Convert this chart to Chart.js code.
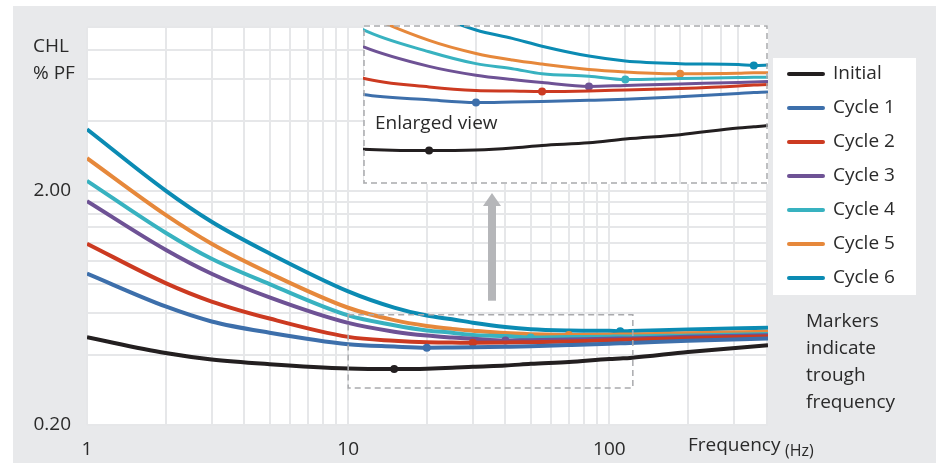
<!DOCTYPE html>
<html>
<head>
<meta charset="utf-8">
<script src="https://cdn.jsdelivr.net/npm/chart.js@4.4.0/dist/chart.umd.min.js"></script>
<style>
  html, body { margin: 0; padding: 0; background: #fff; }
  #wrap { position: relative; width: 936px; height: 465px; }
  #main { position: absolute; left: 0; top: 0; }
  #inset { position: absolute; left: 363px; top: 25px; }
</style>
</head>
<body>
<div id="wrap">
  <canvas id="main" width="936" height="465"></canvas>
  <canvas id="inset" width="405" height="159"></canvas>
</div>
<script>
// data (CHL % PF against frequency in Hz)
const frequencies = [1, 2, 3, 5, 10, 15, 20, 25, 30, 40, 50, 70, 100, 110, 120, 200, 405];
const initial = [0.474, 0.406, 0.381, 0.364, 0.349, 0.347, 0.348, 0.351, 0.355, 0.359, 0.365, 0.372, 0.383, 0.385, 0.387, 0.410, 0.438];
const cycle1  = [0.887, 0.642, 0.554, 0.496, 0.443, 0.433, 0.428, 0.429, 0.430, 0.432, 0.434, 0.439, 0.445, 0.447, 0.448, 0.458, 0.468];
const cycle2  = [1.19, 0.808, 0.674, 0.570, 0.476, 0.458, 0.451, 0.450, 0.449, 0.450, 0.452, 0.455, 0.460, 0.462, 0.463, 0.470, 0.478];
const cycle3  = [1.81, 1.122, 0.886, 0.702, 0.546, 0.501, 0.482, 0.473, 0.467, 0.459, 0.461, 0.464, 0.467, 0.468, 0.469, 0.476, 0.484];
const cycle4  = [2.21, 1.326, 1.026, 0.800, 0.588, 0.534, 0.507, 0.496, 0.485, 0.480, 0.473, 0.475, 0.477, 0.478, 0.478, 0.483, 0.490];
const cycle5  = [2.76, 1.58, 1.19, 0.890, 0.634, 0.561, 0.530, 0.515, 0.506, 0.494, 0.489, 0.485, 0.486, 0.487, 0.487, 0.493, 0.500];
const cycle6  = [3.67, 2.008, 1.478, 1.082, 0.745, 0.635, 0.587, 0.566, 0.547, 0.524, 0.513, 0.507, 0.505, 0.503, 0.504, 0.512, 0.521];
const seriesValues = [initial, cycle1, cycle2, cycle3, cycle4, cycle5, cycle6];
const seriesNames = ['Initial', 'Cycle 1', 'Cycle 2', 'Cycle 3', 'Cycle 4', 'Cycle 5', 'Cycle 6'];
const troughFreq = [15, 20, 30, 40, 50, 70, 110];

const xGridTicks = [1, 2, 3, 4, 5, 6, 7, 8, 9, 10, 20, 30, 40, 50, 60, 70, 80, 90, 100, 200, 300, 400];
const yGridTicks = [0.2, 0.4, 0.6, 0.8, 1.0, 1.2, 1.4, 1.6, 1.8, 2.0, 4, 6, 8, 10];
const xTickLabels = { 1: '1', 10: '10', 100: '100' };
const yTickLabels = { 0.2: '0.20', 2: '2.00' };
const insetGridTicks = [10, 20, 30, 40, 50, 60, 70, 80, 90, 100];
const zoomBoxX = [10, 123];
const zoomBoxY = [0.288, 0.592];
const insetX = [10, 120];
const insetY = [0.30, 0.60];

const colors = ['#231f20', '#3d6fab', '#cc3a21', '#6e5295', '#38b2c0', '#e6883b', '#0b8bb3'];
const FONT = '"Open Sans", sans-serif';
const TEXT = '#2a2a2a';
const BG = '#e8e9eb';
const GRID = '#e6e7e9';
const DASH = '#a9aaad';

function makeDatasets(width, radius) {
    return seriesValues.map((vals, i) => ({
        label: seriesNames[i],
        data: frequencies.map((f, j) => ({ x: f, y: vals[j] })),
        borderColor: colors[i],
        backgroundColor: colors[i],
        borderWidth: width,
        pointRadius: ctx => frequencies[ctx.dataIndex] === troughFreq[i] ? radius : 0,
        pointHoverRadius: 0,
        pointBorderWidth: 0,
        cubicInterpolationMode: 'monotone'
    }));
}

const backdrop = {
    id: 'backdrop',
    beforeDraw(chart) {
        const { ctx, chartArea: a } = chart;
        ctx.save();
        ctx.fillStyle = '#fff';
        ctx.fillRect(0, 0, chart.width, chart.height);
        ctx.fillStyle = BG;
        ctx.fillRect(13, 6, chart.width - 13, 457);
        ctx.fillStyle = '#fff';
        ctx.fillRect(a.left, a.top, a.right - a.left, a.bottom - a.top);
        ctx.restore();
    }
};

const annotations = {
    id: 'annotations',
    afterDraw(chart) {
        const { ctx } = chart;
        const xs = chart.scales.x, ys = chart.scales.y;
        ctx.save();

        // small dashed box around the zoomed region
        const bx0 = xs.getPixelForValue(zoomBoxX[0]), bx1 = xs.getPixelForValue(zoomBoxX[1]);
        const by0 = ys.getPixelForValue(zoomBoxY[1]), by1 = ys.getPixelForValue(zoomBoxY[0]);
        ctx.strokeStyle = DASH;
        ctx.lineWidth = 1.5;
        ctx.setLineDash([6, 4]);
        ctx.strokeRect(bx0, by0, bx1 - bx0, by1 - by0);
        ctx.setLineDash([]);

        // arrow pointing up to the enlarged view
        ctx.fillStyle = '#b5b6b9';
        ctx.fillRect(488, 205, 8, by0 - 14 - 205);
        ctx.beginPath();
        ctx.moveTo(492, 193);
        ctx.lineTo(501, 206);
        ctx.lineTo(483, 206);
        ctx.closePath();
        ctx.fill();

        // axis titles
        ctx.fillStyle = TEXT;
        ctx.textBaseline = 'middle';
        ctx.textAlign = 'left';
        ctx.font = '19px ' + FONT;
        ctx.fillText('CHL', 33, 47);
        ctx.fillText('% PF', 33, 74);
        ctx.fillText('Frequency', 688, 446);
        ctx.font = '16px ' + FONT;
        ctx.fillText('(Hz)', 785, 451);

        // legend
        ctx.fillStyle = '#fff';
        ctx.fillRect(773, 58, 143, 237);
        ctx.font = '19px ' + FONT;
        chart.data.datasets.forEach((d, i) => {
            const y = 74 + i * 34;
            ctx.strokeStyle = d.borderColor;
            ctx.lineWidth = 4;
            ctx.lineCap = 'round';
            ctx.beginPath();
            ctx.moveTo(789, y);
            ctx.lineTo(823, y);
            ctx.stroke();
            ctx.fillStyle = TEXT;
            ctx.fillText(d.label, 833, y);
        });

        // note under the legend
        ['Markers', 'indicate', 'trough', 'frequency'].forEach((t, i) => {
            ctx.fillText(t, 806, 322 + i * 26.7);
        });
        ctx.restore();
    }
};

new Chart(document.getElementById('main'), {
    type: 'line',
    data: { datasets: makeDatasets(4, 4) },
    options: {
        responsive: false,
        animation: false,
        events: [],
        layout: { padding: { left: 0, top: 25, right: 168, bottom: 0 } },
        plugins: { legend: { display: false }, tooltip: { enabled: false } },
        scales: {
            x: {
                type: 'logarithmic',
                min: 1,
                max: 405,
                afterBuildTicks: s => { s.ticks = xGridTicks.map(v => ({ value: v })); },
                afterFit: s => { s.height = 40; },
                grid: { color: GRID, lineWidth: 2, drawTicks: false },
                border: { display: false },
                ticks: {
                    autoSkip: false, maxRotation: 0, padding: 13, color: TEXT,
                    font: { family: FONT, size: 19 },
                    callback: v => xTickLabels[v] || ''
                }
            },
            y: {
                type: 'logarithmic',
                min: 0.2,
                max: 10,
                afterBuildTicks: s => { s.ticks = yGridTicks.map(v => ({ value: v })); },
                afterFit: s => { s.width = 87; },
                grid: { color: GRID, lineWidth: 2, drawTicks: false },
                border: { display: false },
                ticks: {
                    autoSkip: false, padding: 16, color: TEXT,
                    font: { family: FONT, size: 19 },
                    callback: v => yTickLabels[v] || ''
                }
            }
        }
    },
    plugins: [backdrop, annotations]
});

// enlarged view, drawn as a second chart over the top of the first
const insetFrame = {
    id: 'insetFrame',
    beforeDraw(chart) {
        chart.ctx.save();
        chart.ctx.fillStyle = '#fff';
        chart.ctx.fillRect(0, 0, chart.width, chart.height);
        chart.ctx.restore();
    },
    afterDraw(chart) {
        const { ctx } = chart;
        ctx.save();
        ctx.strokeStyle = DASH;
        ctx.lineWidth = 1.5;
        ctx.setLineDash([6, 4]);
        ctx.strokeRect(1, 1, chart.width - 2, chart.height - 2);
        ctx.setLineDash([]);
        ctx.fillStyle = TEXT;
        ctx.font = '19px ' + FONT;
        ctx.textBaseline = 'middle';
        ctx.fillText('Enlarged view', 12, 99);
        ctx.restore();
    }
};

new Chart(document.getElementById('inset'), {
    type: 'line',
    data: { datasets: makeDatasets(3, 4) },
    options: {
        responsive: false,
        animation: false,
        events: [],
        layout: { padding: 0 },
        plugins: { legend: { display: false }, tooltip: { enabled: false } },
        scales: {
            x: {
                type: 'logarithmic',
                min: insetX[0],
                max: insetX[1],
                afterBuildTicks: s => { s.ticks = insetGridTicks.map(v => ({ value: v })); },
                afterFit: s => { s.height = 0; },
                grid: { color: GRID, lineWidth: 2, drawTicks: false },
                border: { display: false },
                ticks: { display: false }
            },
            y: {
                type: 'logarithmic',
                min: insetY[0],
                max: insetY[1],
                display: false
            }
        }
    },
    plugins: [insetFrame]
});
</script>
</body>
</html>
